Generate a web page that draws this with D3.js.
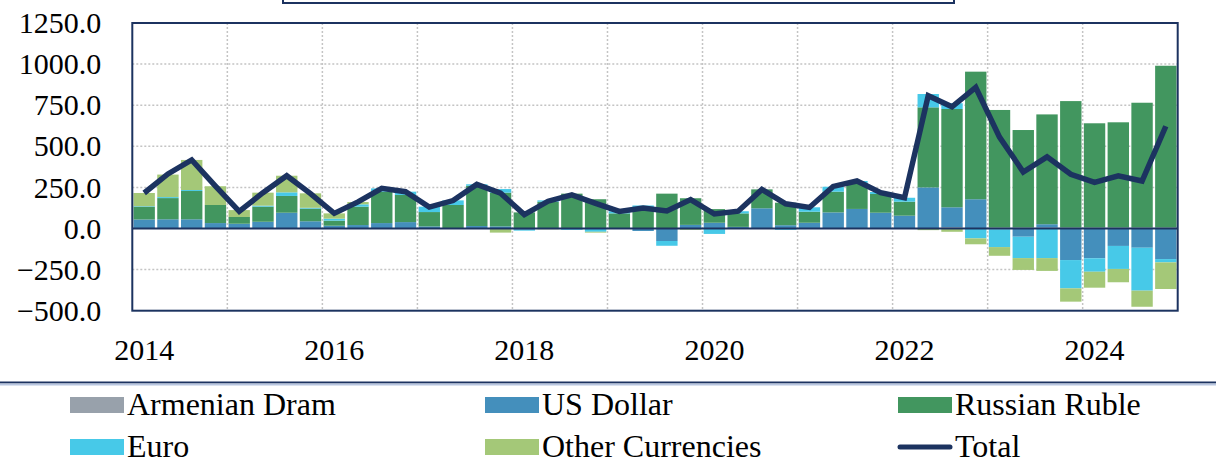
<!DOCTYPE html>
<html>
<head>
<meta charset="utf-8">
<script src="https://cdn.jsdelivr.net/npm/d3@7"></script>
<style>
  body { margin: 0; background: #fff; }
  svg { display: block; font-family: "Liberation Serif", "Times New Roman", serif; }
</style>
</head>
<body>
<svg id="chart" width="1216" height="462"></svg>
<script>
var years = [2014, 2015, 2016, 2017, 2018, 2019, 2020, 2021, 2022, 2023, 2024]
var quarters = []
years.forEach(y => [1, 2, 3, 4].forEach(q => quarters.push(y + 'Q' + q)))

var seriesNames = ['Armenian Dram', 'US Dollar', 'Russian Ruble', 'Euro', 'Other Currencies']

var dram = [0,0,0,0, 0,0,0,0, 0,0,0,0, 0,0,0,0, 0,0,0,0, 0,0,0,0, 0,0,0,0, 0,0,0,0, 0,0,8,0, 6,6,6,6, 6,6,6,6]
var usd = [55,56,56,33, 29,41,96,44, 17,21,33,39, 13,2,15,13, -8,0,0,0, 0,-15,-76,22, 35,10,123,20, 35,98,119,96, 78,250,121,178, -5,-50,20,-192, -181,-106,-117,-186]
var rub = [78,129,172,110, 41,92,102,77, 31,112,191,165, 87,141,245,205, 98,163,212,178, 92,130,212,162, 83,82,115,137, 67,126,156,114, 85,487,598,776, 715,593,668,769, 634,640,759,984]
var eur = [3,6,6,0, 0,6,22,5, 12,14,20,20, 33,28,9,22, -5,8,-8,-20, 13,10,-29,0, -33,13,0,-8, 27,30,14,12, 24,81,35,-60, -108,-130,-180,-172, -82,-140,-261,-20]
var other = [80,137,183,114, 42,79,101,88, 32,14,0,0, 0,0,0,-25, 0,-5,0,-5, -3,0,0,-8, 0,0,0,0, 0,0,0,0, 0,-10,-20,-36, -53,-72,-78,-81, -97,-81,-98,-162]
var total = [216,332,417,258, 104,218,321,212, 92,162,244,224, 130,170,268,215, 85,166,204,153, 104,125,107,176, 88,105,238,150, 128,256,289,218, 187,808,740,858, 556,344,436,330, 280,320,289,622]

var yTicks = [-500, -250, 0, 250, 500, 750, 1000, 1250]

var colors = {
  'Armenian Dram': '#98a1ab',
  'US Dollar': '#448fbc',
  'Russian Ruble': '#42965f',
  'Euro': '#47c9e8',
  'Other Currencies': '#a4c878'
}
var navy = '#1c3360'

var rows = quarters.map((q, i) => ({
  q: q,
  'Armenian Dram': dram[i],
  'US Dollar': usd[i],
  'Russian Ruble': rub[i],
  'Euro': eur[i],
  'Other Currencies': other[i],
  total: total[i]
}))

var svg = d3.select('#chart')
var pLeft = 132.3, pRight = 1177.7, pTop = 23, pBottom = 310.7

var x = d3.scaleBand().domain(quarters).range([pLeft, pRight]).paddingInner(0.1).paddingOuter(0.05)
var y = d3.scaleLinear().domain([-500, 1250]).range([pBottom, pTop])
var step = (pRight - pLeft) / quarters.length

// cut-off title box
svg.append('rect')
  .attr('x', 283).attr('y', -20).attr('width', 671).attr('height', 23)
  .attr('fill', 'none').attr('stroke', navy).attr('stroke-width', 2)

// grid
var grid = svg.append('g')
grid.selectAll('line.h').data(yTicks.filter(d => d != 0 && d != -500 && d != 1250))
  .join('line')
  .attr('x1', pLeft).attr('x2', pRight)
  .attr('y1', d => y(d)).attr('y2', d => y(d))
  .attr('stroke', '#c4c4c4').attr('stroke-width', 1.5).attr('stroke-dasharray', '2,2')

grid.selectAll('line.v').data(d3.range(1, years.length))
  .join('line')
  .attr('x1', d => pLeft + d * 4 * step).attr('x2', d => pLeft + d * 4 * step)
  .attr('y1', pTop).attr('y2', pBottom)
  .attr('stroke', '#c4c4c4').attr('stroke-width', 1.5).attr('stroke-dasharray', '2,2')

// bars
var stacked = d3.stack().keys(seriesNames).offset(d3.stackOffsetDiverging)(rows)

svg.append('g').selectAll('g').data(stacked).join('g')
  .attr('fill', d => colors[d.key])
  .selectAll('rect').data(d => d).join('rect')
  .attr('x', d => x(d.data.q))
  .attr('width', x.bandwidth())
  .attr('y', d => y(Math.max(d[0], d[1])))
  .attr('height', d => Math.abs(y(d[0]) - y(d[1])))

// zero line
svg.append('line')
  .attr('x1', pLeft).attr('x2', pRight).attr('y1', y(0)).attr('y2', y(0))
  .attr('stroke', navy).attr('stroke-width', 2)

// total line
var line = d3.line()
  .x(d => x(d.q) + x.bandwidth() / 2)
  .y(d => y(d.total))

svg.append('path')
  .attr('d', line(rows))
  .attr('fill', 'none')
  .attr('stroke', navy)
  .attr('stroke-width', 5.5)

// border
svg.append('rect')
  .attr('x', pLeft).attr('y', pTop).attr('width', pRight - pLeft).attr('height', pBottom - pTop)
  .attr('fill', 'none').attr('stroke', navy).attr('stroke-width', 2)

// axes
var yAxis = d3.axisLeft(y).tickValues(yTicks).tickFormat(d3.format('.1f')).tickSize(0).tickPadding(31)
svg.append('g').attr('transform', 'translate(' + pLeft + ',0)').call(yAxis)
  .attr('font-family', null).attr('font-size', 30)
  .call(g => g.select('.domain').remove())
  .selectAll('text').attr('fill', '#000')

var xAxis = d3.axisBottom(x)
  .tickValues(quarters.filter(q => q.endsWith('Q1') && +q.slice(0, 4) % 2 == 0))
  .tickFormat(q => q.slice(0, 4))
  .tickSize(0).tickPadding(0)
svg.append('g').attr('transform', 'translate(0,' + pBottom + ')').call(xAxis)
  .attr('font-family', null).attr('font-size', 30)
  .call(g => g.select('.domain').remove())
  .selectAll('text').attr('fill', '#000')
  .attr('dy', null).attr('y', 49)

// legend
svg.append('line').attr('x1', 0).attr('x2', 1216).attr('y1', 382.5).attr('y2', 382.5)
  .attr('stroke', navy).attr('stroke-width', 2)
svg.append('line').attr('x1', 0).attr('x2', 1216).attr('y1', 384.5).attr('y2', 384.5)
  .attr('stroke', '#b8c6e0').attr('stroke-width', 2)

var legendOrder = ['Armenian Dram', 'US Dollar', 'Russian Ruble', 'Euro', 'Other Currencies', 'Total']
var colX = [70, 485, 898], rowY = [405, 447]

var lg = svg.append('g').selectAll('g').data(legendOrder).join('g')
  .attr('transform', (d, i) => 'translate(' + colX[i % 3] + ',' + rowY[Math.floor(i / 3)] + ')')

lg.filter(d => d != 'Total').append('rect')
  .attr('x', 0).attr('y', -8).attr('width', 54).attr('height', 16)
  .attr('fill', d => colors[d])
lg.filter(d => d == 'Total').append('line')
  .attr('x1', 2).attr('x2', 52).attr('y1', 0).attr('y2', 0)
  .attr('stroke', navy).attr('stroke-width', 5).attr('stroke-linecap', 'round')
lg.append('text')
  .attr('x', 57).attr('y', 10)
  .attr('font-size', 32)
  .text(d => d)
</script>
</body>
</html>
